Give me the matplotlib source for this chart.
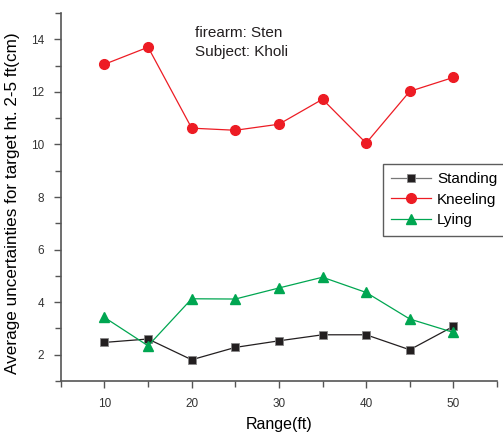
import numpy as np
import matplotlib.pyplot as plt
from matplotlib.ticker import MultipleLocator

plt.rcParams['font.family'] = ['Liberation Sans', 'DejaVu Sans']

ranges = [10, 15, 20, 25, 30, 35, 40, 45, 50]
standing = [2.47, 2.60, 1.81, 2.28, 2.53, 2.76, 2.76, 2.19, 3.08]
kneeling = [13.05, 13.70, 10.62, 10.54, 10.77, 11.72, 10.05, 12.02, 12.55]
lying = [3.42, 2.34, 4.13, 4.12, 4.54, 4.95, 4.37, 3.36, 2.85]

fig = plt.figure(figsize=(5.03, 4.34), dpi=100)
ax = fig.add_axes([0.121, 0.122, 0.867, 0.848])

ax.plot(ranges, standing, color='#231f20', lw=0.9, marker='s', ms=6,
        mfc='#231f20', mec='#888888', mew=0.6, label='Standing')
ax.plot(ranges, kneeling, color='#ed1c24', lw=0.9, marker='o', ms=7,
        mfc='#ed1c24', mec='#ed1c24', label='Kneeling')
ax.plot(ranges, lying, color='#00a651', lw=0.9, marker='^', ms=7,
        mfc='#00a651', mec='#00a651', label='Lying')

ax.set_xlim(5, 55)
ax.set_ylim(1, 15)
ax.xaxis.set_major_locator(MultipleLocator(10))
ax.xaxis.set_minor_locator(MultipleLocator(5))
ax.yaxis.set_major_locator(MultipleLocator(2))
ax.yaxis.set_minor_locator(MultipleLocator(1))

for s in ['top', 'right']:
    ax.spines[s].set_visible(False)
for s in ['left', 'bottom']:
    ax.spines[s].set_color('#555555')
    ax.spines[s].set_linewidth(1.2)

ax.tick_params(which='major', length=5, width=1, color='#555555',
               labelsize=8.5, labelcolor='#333333', pad=7)
ax.tick_params(which='minor', length=4, width=1, color='#555555')

ax.set_xlabel('Range(ft)', fontsize=11.5, labelpad=5)
ax.set_ylabel('Average uncertainties for target ht. 2-5 ft(cm)', fontsize=12.3)
ax.yaxis.set_label_coords(-0.094, 0.482)

ax.text(0.307, 0.946, 'firearm: Sten', transform=ax.transAxes, fontsize=11,
        va='center', color='#231f20')
ax.text(0.307, 0.894, 'Subject: Kholi', transform=ax.transAxes, fontsize=11,
        va='center', color='#231f20')

leg = ax.legend(loc='upper left', bbox_to_anchor=(0.738, 0.59), fontsize=11,
                frameon=True, fancybox=False, handlelength=2.6,
                handletextpad=0.4, borderpad=0.55, labelspacing=0.42,
                borderaxespad=0)
leg.get_frame().set_edgecolor('#333333')
leg.get_frame().set_linewidth(1.0)
leg.get_lines()[0].set_color('#777777')
leg.get_lines()[0].set_markerfacecolor('#231f20')

fig.savefig('out.png', dpi=100)
